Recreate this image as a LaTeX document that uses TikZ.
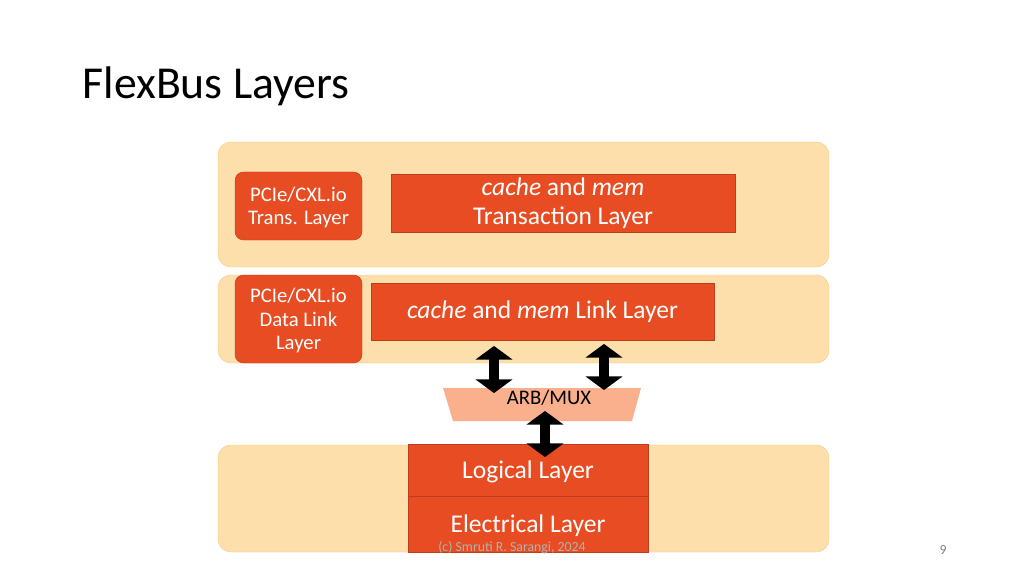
\documentclass[tikz,border=0pt]{standalone}
\usepackage{fontspec}
\setmainfont{Carlito}
\usetikzlibrary{arrows.meta}
\definecolor{band}{RGB}{253,223,171}
\definecolor{bandedge}{RGB}{250,200,130}
\definecolor{lyr}{RGB}{232,76,34}
\definecolor{lyredge}{RGB}{190,60,30}
\definecolor{mux}{RGB}{250,176,140}
\tikzset{
band/.style = { fill = band, draw = bandedge, rounded corners = 12pt },
layer/.style = { fill = lyr, draw = lyredge, text = white, font = \fontsize{24}{27}\selectfont, align = center },
pcie/.style = { layer, rounded corners = 8pt, font = \fontsize{19.5}{22}\selectfont },
fat/.style = { line width = 0.36cm, {Triangle[length = 0.45cm, width = 1.2cm]}-{Triangle[length = 0.45cm, width = 1.2cm]}, shorten <= -1pt, shorten >= -1pt }
}
\begin{document}
\begin{tikzpicture}[x=0.03307cm, y=-0.03307cm]
	\useasboundingbox (0,0) rectangle (1024,576);
	\node[anchor = base west, font = \fontsize{43}{48}\selectfont] (title) at (79,99) {FlexBus Layers};
	% bands
	\draw[band] (218,142) rectangle (829,267);
	\draw[band] (218,275) rectangle (829,363);
	\draw[band] (218,445) rectangle (829,552);
	% top
	\node[pcie, minimum width = 127*0.03307cm, minimum height = 68*0.03307cm, text depth = 0pt] (tpcie) at (298.5,206) {PCIe/CXL.io\\Trans. Layer};
	\node[layer, minimum width = 344*0.03307cm, minimum height = 56*0.03307cm] (trans) at (563,203) {\textit{cache} and \textit{mem}\\Transaction Layer};
	% link
	\node[pcie, minimum width = 127*0.03307cm, minimum height = 88*0.03307cm, text depth = 0pt] (lpcie) at (298.5,319) {PCIe/CXL.io\\Data Link\\Layer};
	\node[layer, minimum width = 343*0.03307cm, minimum height = 57*0.03307cm] (link) at (542.5,311.5) {\textit{cache} and \textit{mem} Link Layer};
	% arb/mux
	\fill[mux] (443,388) -- (641,388) -- (632,421) -- (453,421) -- cycle;
	\node[font = \fontsize{19.5}{22}\selectfont] (mux) at (549,398) {ARB/MUX};
	\coordinate (a1t) at (494,347); \coordinate (a1b) at (494,392);
	\coordinate (a2t) at (604,345); \coordinate (a2b) at (604,389);
	\coordinate (a3t) at (545,412); \coordinate (a3b) at (545,456);
	% physical
	\node[layer, minimum width = 240*0.03307cm, minimum height = 52*0.03307cm, text depth = 0pt] (logic) at (528,470) {Logical Layer};
	\node[layer, minimum width = 240*0.03307cm, minimum height = 56*0.03307cm, text depth = 0pt] (elec) at (528,524) {Electrical Layer};
	\draw[fat] (a1t) -- (a1b);
	\draw[fat] (a2t) -- (a2b);
	\draw[fat] (a3t) -- (a3b);
	\node[text = gray!60, font = \fontsize{13}{14}\selectfont] (foot) at (512,548) {(c) Smruti R. Sarangi, 2024};
	\node[text = gray, font = \fontsize{13}{14}\selectfont] (page) at (943,550) {9};
\end{tikzpicture}
\end{document}
